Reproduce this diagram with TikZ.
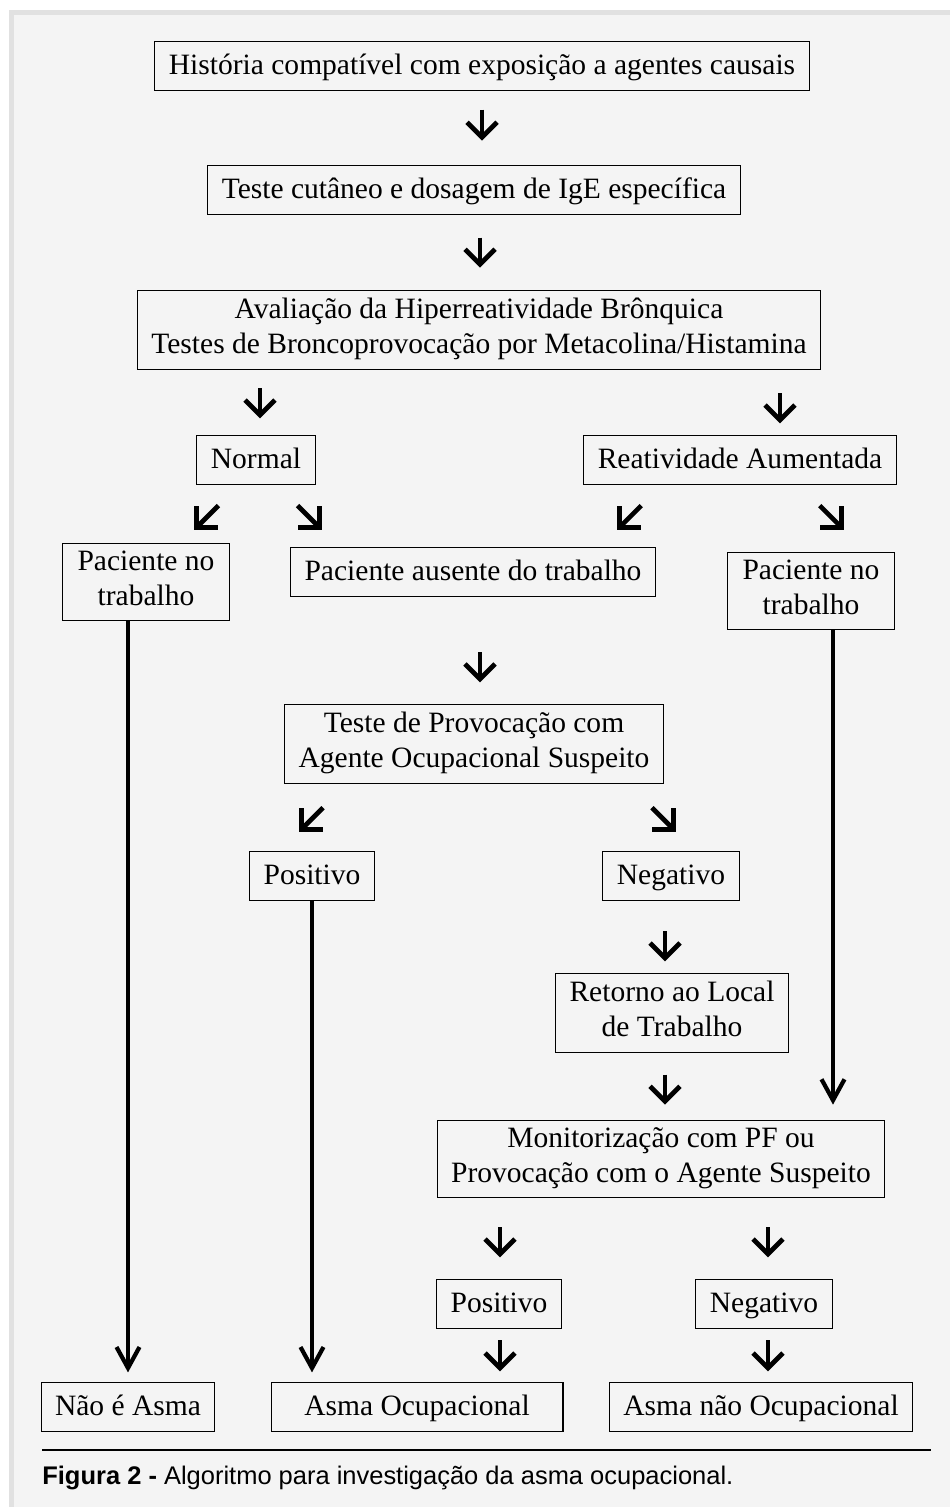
\documentclass[tikz,border=0pt]{standalone}
\usepackage{fontspec}
\setmainfont{Liberation Serif}
\setsansfont{Liberation Sans}
\usepackage{tikz}
\usetikzlibrary{positioning, arrows.meta, calc}

\definecolor{moldura}{HTML}{E1E1E1}
\definecolor{painel}{HTML}{F4F4F4}

\begin{document}
\begin{tikzpicture}[
    x=0.02cm, y=-0.02cm,     % 1単位 = 元画像の1ピクセル
    font=\fontsize{16.8}{20}\selectfont,
    caixa/.style={draw, line width=0.6pt, inner xsep=0.28cm, inner ysep=4.2pt,
        align=center, execute at begin node={\rule{0pt}{14.5pt}},
        execute at end node={\rule[-4.5pt]{0pt}{4.5pt}}},
    seta/.style={line width=2.7pt, -{Straight Barb[length=0.3cm, width=0.6cm]}},
    seta_longa/.style={line width=2.4pt, -{Straight Barb[length=0.42cm, width=0.46cm]}}
]

    % --- 0. 背景（枠とパネル） ---
    \useasboundingbox (0,0) rectangle (950,1507);
    \fill [white] (0,0) rectangle (950,1507);
    \fill [moldura] (9,10) rectangle (950,1507);
    \fill [painel] (14,15) rectangle (950,1507);

    % --- 1. 上段のボックス ---
    \node [caixa] (hist) at (482,66) {História compatível com exposição a agentes causais};
    \node [caixa] (teste_cut) at (474,190) {Teste cutâneo e dosagem de IgE específica};
    \node [caixa] (aval) at (479,330) {Avaliação da Hiperreatividade Brônquica\\
        Testes de Broncoprovocação por Metacolina/Histamina};

    % 【Normal / Reatividade Aumentada】
    \node [caixa] (normal) at (256,460) {Normal};
    \node [caixa] (reat) at (740,460) {Reatividade Aumentada};

    % --- 2. 中段のボックス ---
    \node [caixa, minimum width=3.34cm] (pac_trab_l) at (146,582) {Paciente no\\trabalho};
    \node [caixa] (pac_ausente) at (473,572) {Paciente ausente do trabalho};
    \node [caixa, minimum width=3.34cm] (pac_trab_r) at (811,591) {Paciente no\\trabalho};
    \node [caixa] (prov) at (474,744) {Teste de Provocação com\\Agente Ocupacional Suspeito};
    \node [caixa] (pos_1) at (312,876) {Positivo};
    \node [caixa] (neg_1) at (671,876) {Negativo};
    \node [caixa] (retorno) at (672,1013) {Retorno ao Local\\de Trabalho};
    \node [caixa] (monit) at (661,1159) {Monitorização com PF ou\\Provocação com o Agente Suspeito};
    \node [caixa] (pos_2) at (499,1304) {Positivo};
    \node [caixa] (neg_2) at (764,1304) {Negativo};

    % --- 3. 最下段（結論） ---
    \node [caixa] (nao_asma) at (128,1407) {Não é Asma};
    \node [caixa, minimum width=5.84cm] (asma_oc) at (417,1407) {Asma Ocupacional};
    \node [caixa, minimum width=5.86cm] (asma_nao_oc) at (761,1407) {Asma não Ocupacional};

    % --- 4. 短い矢印（ボックスの間に浮かぶ） ---
    \draw [seta] (hist.south) ++(0,19) -- ++(0,31);
    \draw [seta] (teste_cut.south) ++(6,23) -- ++(0,30);
    \draw [seta] (normal.north) ++(4,-47) -- ++(0,30);
    \draw [seta] (reat.north) ++(40,-42) -- ++(0,30);

    % 斜めの矢印
    \draw [seta] (normal.south west) ++(22,21) -- ++(-24,24);
    \draw [seta] (normal.south east) ++(-18,21) -- ++(24,24);
    \draw [seta] (reat.south west) ++(58,21) -- ++(-24,24);
    \draw [seta] (reat.south east) ++(-77,21) -- ++(24,24);

    \draw [seta] (prov.north) ++(6,-52) -- ++(0,30);
    \draw [seta] (prov.south west) ++(39,24) -- ++(-24,24);
    \draw [seta] (prov.south east) ++(-12,24) -- ++(24,24);

    \draw [seta] (retorno.north) ++(-7,-42) -- ++(0,30);
    \draw [seta] (monit.north) ++(4,-45) -- ++(0,30);
    \draw [seta] (pos_2.north) ++(1,-52) -- ++(0,30);
    \draw [seta] (neg_2.north) ++(4,-52) -- ++(0,30);
    \draw [seta] (asma_oc.north) ++(83,-42) -- ++(0,31);
    \draw [seta] (asma_nao_oc.north) ++(7,-42) -- ++(0,31);

    % --- 5. 長い矢印 ---
    \draw [seta_longa, shorten >=0.2cm] (nao_asma.north |- pac_trab_l.south) -- (nao_asma.north);
    \draw [seta_longa, shorten >=0.2cm] (pos_1.south) -- (pos_1.south |- asma_oc.north);
    \draw [seta_longa, shorten >=0.3cm] (pac_trab_r.south) ++(22,0) coordinate (dir_ini)
        -- (dir_ini |- monit.north);

    % --- 6. キャプション ---
    \draw [line width=0.6pt] (42,1450) -- (931,1450);
    \node [anchor=west, inner sep=0pt, font=\sffamily\fontsize{14.5}{17}\selectfont] (legenda)
        at (42,1478) {\textbf{Figura 2 -} Algoritmo para investigação da asma ocupacional.};

\end{tikzpicture}
\end{document}
